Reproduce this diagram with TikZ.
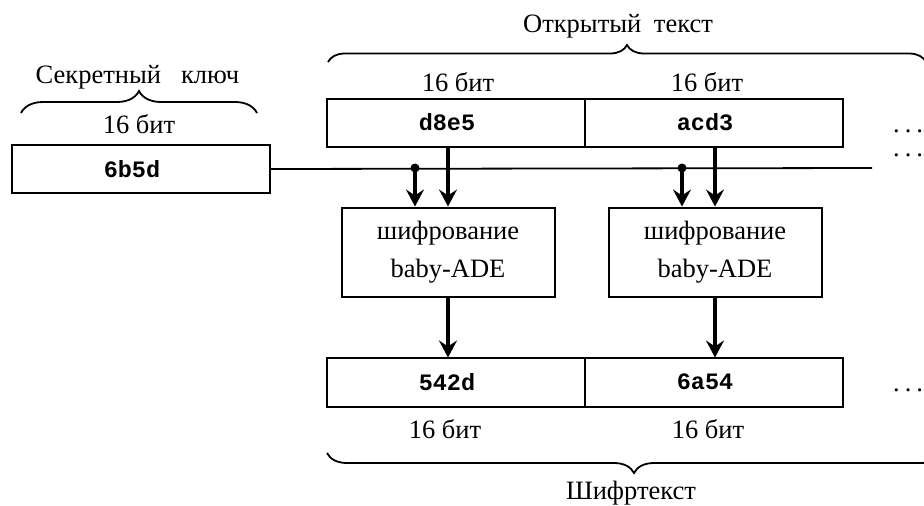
\documentclass[tikz,border=0pt]{standalone}
\usepackage{fontspec}
\setmainfont{Liberation Serif}
\setmonofont{Liberation Mono}
\usetikzlibrary{arrows.meta,decorations.pathreplacing}

\newcommand{\pontos}{.\hspace{5pt}.\hspace{5pt}.}

\begin{document}
\begin{tikzpicture}[x=1pt, y=-1pt,
    every node/.style={font=\fontsize{26.5}{30}\selectfont},
    celula/.style={draw, line width=2pt, minimum height=48pt, inner sep=0pt, outer sep=0pt,
                   font=\fontsize{23.5}{26}\selectfont\ttfamily\bfseries,
                   execute at end node={\hspace*{18pt}}},
    bloco/.style={draw, line width=2pt, minimum width=213pt, minimum height=89pt,
                  align=center, inner sep=0pt, font=\fontsize{26.5}{38}\selectfont},
    seta/.style={line width=3.2pt, -{Stealth[length=17pt, width=18pt, inset=6pt]}},
    chaveta/.style={decorate, decoration={brace, amplitude=#1}, line width=1.8pt},
    rotulo/.style={anchor=base},
    reticencias/.style={anchor=base west, inner sep=0pt}]

  \useasboundingbox (0,0) rectangle (924,506);

  % 1. Chave secreta a esquerda
  \node[celula, minimum width=258pt] (chave) at (141,169) {6b5d};
  \node[rotulo] (rotchave) at (137.5,83) {Секретный\hspace{20pt}ключ};
  \node[rotulo] (bitchave) at (139,133) {16 бит};
  \draw[chaveta=22pt] (21,113) -- (257,113);

  \coordinate (fimchave) at (872,168);
  \draw[line width=1.8pt] (chave.east) -- (fimchave);

  % 2. Duas colunas: texto aberto -> cifragem -> texto cifrado
  \foreach \i/\xc/\xe/\xb/\xt/\ta/\tc in {1/456/448/458/445/d8e5/542d, 2/714/715/707/708/acd3/6a54} {
    \node[celula, minimum width=258pt] (p\i) at (\xc,122.5) {\ta};
    \node[rotulo] (bp\i) at (\xb,91) {16 бит};
    \node[bloco] (e\i) at (\xe,252) {шифрование\\baby-ADE};
    \node[celula, minimum width=258pt, minimum height=49pt] (c\i) at (\xc,382) {\tc};
    \node[rotulo] (bc\i) at (\xt,438) {16 бит};

    \coordinate (k\i) at (\xe-33,168);     % ramal da chave
    \fill (k\i) circle (4.5pt);
    \draw[seta] (k\i) -- (k\i |- e\i.north);
    \draw[seta] (e\i.north |- p\i.south) -- (e\i.north);
    \draw[seta] (e\i.south) -- (e\i.south |- c\i.north);
  }

  % 3. Chavetas e reticencias
  \draw[chaveta=17pt] (328,62) -- (926,62);
  \node[rotulo] (aberto) at (618,32) {Открытый\hspace{6pt} текст};
  \draw[chaveta=20pt] (941,453) -- (327,453);
  \node[rotulo] (cifrado) at (631,499) {Шифртекст};

  \node[reticencias] (r1) at (893,132) {\pontos};
  \node[reticencias] (r2) at (893,156) {\pontos};
  \node[reticencias] (r3) at (893,391) {\pontos};

\end{tikzpicture}
\end{document}
